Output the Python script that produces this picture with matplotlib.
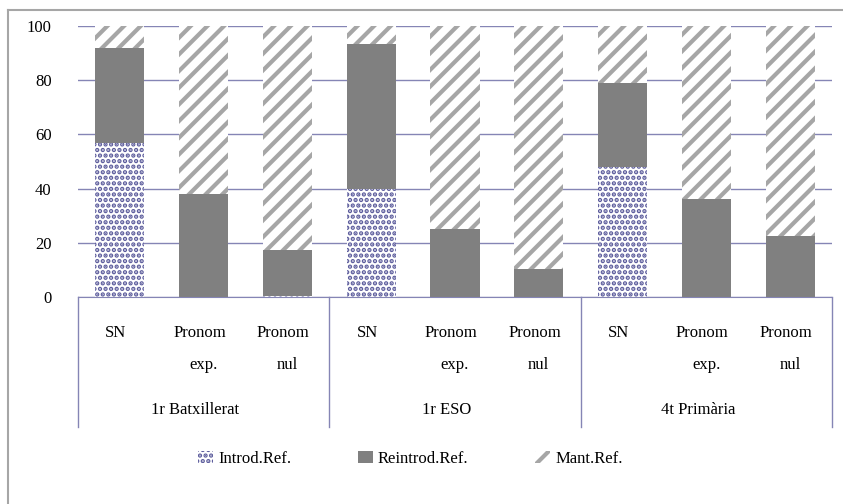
import numpy as np
import matplotlib.pyplot as plt
from matplotlib.patches import Patch
from matplotlib.lines import Line2D
from matplotlib.transforms import blended_transform_factory

plt.rcParams['font.family'] = ['Liberation Serif', 'DejaVu Serif']
plt.rcParams['hatch.linewidth'] = 3.0

# data (percentages)
groups = ['1r Batxillerat', '1r ESO', '4t Primària']
cat_line1 = ['SN', 'Pronom', 'Pronom'] * 3
cat_line2 = ['', 'exp.', 'nul'] * 3
introd = np.array([57, 0, 0.5, 40, 0, 0, 48, 0, 0])
reintrod = np.array([35, 38, 17, 53.5, 25, 10.5, 31, 36, 22.5])
mant = 100 - introd - reintrod

grid_col = '#8585B5'
dot_col = '#5C5C9C'
stripe_col = '#A6A6A6'
solid_col = '#808080'
fs = 12
dot_lw = 2.2

fig = plt.figure(figsize=(8.43, 5.04), dpi=100)
ax = fig.add_axes([78/843, 1-297/504, (832-78)/843, 271/504])

x = np.arange(len(introd))
w = 0.585
dots = ax.bar(x, introd, w, color='white', edgecolor=dot_col, hatch='...', linewidth=0)
ax.bar(x, reintrod, w, bottom=introd, color=solid_col, linewidth=0)
ax.bar(x, mant, w, bottom=introd + reintrod, color='white', edgecolor=stripe_col,
       hatch='//', linewidth=0)
for p in dots:
    if hasattr(p, 'set_hatch_linewidth'):
        p.set_hatch_linewidth(dot_lw)

ax.set_xlim(-0.5, len(x) - 0.5)
ax.set_ylim(0, 100)
ax.set_yticks(range(0, 101, 20))
ax.yaxis.grid(True, color=grid_col, linewidth=1)
ax.set_axisbelow(True)
ax.tick_params(axis='y', length=0, pad=19, labelsize=fs)
ax.set_xticks([])
for s in ['top', 'right', 'left']:
    ax.spines[s].set_visible(False)
ax.spines['bottom'].set_color(grid_col)

# category table under the axis
trans = blended_transform_factory(ax.transData, ax.transAxes)
px = 1 / 271
for i in x:
    ax.text(i - 0.05, -(337-297)*px, cat_line1[i], transform=trans, ha='center',
            va='baseline', fontsize=fs)
    if cat_line2[i]:
        ax.text(i, -(369-297)*px, cat_line2[i], transform=trans, ha='center',
                va='baseline', fontsize=fs)
for g, name in enumerate(groups):
    ax.text(g*3 + 1 - 0.1, -(414-297)*px, name, transform=trans, ha='center',
            va='baseline', fontsize=fs)
for b in [-0.5, 2.5, 5.5, 8.5]:
    ax.add_line(Line2D([b, b], [0, -(427-297)*px], transform=trans, color=grid_col,
                       linewidth=1, clip_on=False))

# legend
handles = [Patch(facecolor='white', edgecolor=dot_col, hatch='...', linewidth=0),
           Patch(facecolor=solid_col, linewidth=0),
           Patch(facecolor='white', edgecolor=stripe_col, hatch='//', linewidth=0)]
leg = fig.legend(handles, ['Introd.Ref.', 'Reintrod.Ref.', 'Mant.Ref.'], ncol=3,
                 loc='center left', bbox_to_anchor=(198/843, 1-459/504), frameon=False,
                 fontsize=fs, handlelength=0.9, handleheight=0.7, handletextpad=0.3,
                 columnspacing=4.0, borderpad=0, borderaxespad=0)
h0 = leg.legend_handles[0]
if hasattr(h0, 'set_hatch_linewidth'):
    h0.set_hatch_linewidth(dot_lw)

# outer chart frame
fig.add_artist(Line2D([8/843, 8/843], [0, 1-10/504], color='#A6A6A6', linewidth=1.5))
fig.add_artist(Line2D([8/843, 1], [1-10/504, 1-10/504], color='#A6A6A6', linewidth=1.5))

fig.savefig('out.png', dpi=100)
